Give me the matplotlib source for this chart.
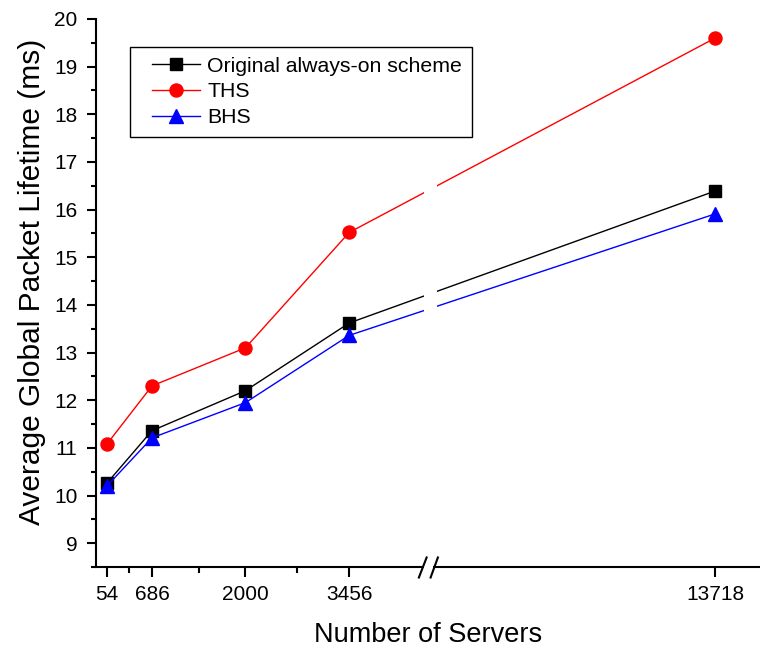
import numpy as np
import matplotlib
matplotlib.use("Agg")
import matplotlib.pyplot as plt
from matplotlib.path import Path
from matplotlib.lines import Line2D
from matplotlib.legend_handler import HandlerLine2D
from matplotlib.ticker import MultipleLocator, FixedLocator

plt.rcParams['font.family'] = ['Liberation Sans', 'DejaVu Sans']

# Data
servers = [54, 686, 2000, 3456, 13718]
original = [10.26, 11.36, 12.20, 13.62, 16.39]
ths = [11.08, 12.30, 13.10, 15.52, 19.60]
bhs = [10.20, 11.21, 11.95, 13.36, 15.91]

series_labels = ["Original always-on scheme", "THS", "BHS"]
x_major = [54, 686, 2000, 3456, 13718]
x_minor = [370, 1343, 2728]
x_label = "Number of Servers"
y_label = "Average Global Packet Lifetime (ms)"

# Broken x axis: linear up to the break, compressed beyond it
BREAK = 4570.0
K = 0.4402


def fwd(x):
    x = np.asarray(x, dtype=float)
    return np.where(x <= BREAK, x, BREAK + (x - BREAK) * K)


def inv(y):
    y = np.asarray(y, dtype=float)
    return np.where(y <= BREAK, y, BREAK + (y - BREAK) / K)


fig = plt.figure(figsize=(7.6, 6.47), dpi=100)
ax = fig.add_axes([96 / 760, 80 / 647, 664 / 760, 548 / 647])
ax.set_xscale('function', functions=(fwd, inv))
ax.set_xlim(-100, 15150)
ax.set_ylim(8.5, 20)

ax.plot(servers, original, color='black', lw=1.0, marker='s', ms=8,
        mec='black', mfc='black', label=series_labels[0], zorder=2)
ax.plot(servers, ths, color='#ff0000', lw=1.0, marker='o', ms=9.4,
        mec='#ff0000', mfc='#ff0000', label=series_labels[1], zorder=2)
ax.plot(servers, bhs, color='#0000ff', lw=1.0, marker='^', ms=10.5,
        mec='#0000ff', mfc='#0000ff', label=series_labels[2], zorder=2)

# gap in the lines where they cross the axis break
ax.axvspan(4510, 4850, ymin=0.05, ymax=0.95, color='white', lw=0, zorder=2.5)

# spines
for s in ('top', 'right'):
    ax.spines[s].set_visible(False)
for s in ('left', 'bottom'):
    ax.spines[s].set_linewidth(1.5)

# axis break mark: white gap in the spine and two slashes
gap_path = Path([(-4.5, 0), (4.5, 0)], [Path.MOVETO, Path.LINETO])
ax.plot([BREAK], [0], marker=gap_path, ms=9 * 0.72, mew=3, mec='white',
        mfc='none', transform=ax.get_xaxis_transform(), clip_on=False,
        zorder=3, ls='none')
slash_path = Path([(-10, -11), (-1.5, 11), (1.75, -11), (9.75, 11)],
                  [Path.MOVETO, Path.LINETO, Path.MOVETO, Path.LINETO])
ax.plot([BREAK], [0], marker=slash_path, ms=22 * 0.72, mew=1.5, mec='black',
        mfc='none', transform=ax.get_xaxis_transform(), clip_on=False,
        zorder=3.5, ls='none')

# ticks
ax.xaxis.set_major_locator(FixedLocator(x_major))
ax.xaxis.set_minor_locator(FixedLocator(x_minor))
ax.set_xticklabels([str(v) for v in x_major])
ax.yaxis.set_major_locator(MultipleLocator(1))
ax.yaxis.set_minor_locator(MultipleLocator(0.5))
ax.tick_params(axis='x', which='major', length=7.5, width=1.5, direction='out',
               labelsize=15, pad=5.5)
ax.tick_params(axis='x', which='minor', length=4, width=1.5, direction='out')
ax.tick_params(axis='y', which='major', length=6.5, width=1.5, direction='out',
               labelsize=15, pad=7)
ax.tick_params(axis='y', which='minor', length=3.5, width=1.5, direction='out')

ax.set_xlabel(x_label, fontsize=19.5, labelpad=13)
ax.set_ylabel(y_label, fontsize=21.5)
ax.yaxis.set_label_coords(-0.075, 0.52)

leg = ax.legend(loc='upper left',
                bbox_to_anchor=((130 - 96) / 664, (567 - 47) / 548),
                fontsize=15.3, frameon=True, fancybox=False, framealpha=1,
                edgecolor='black', handlelength=2.84, handletextpad=0.35,
                borderpad=0.45, labelspacing=0.32, borderaxespad=0,
                handler_map={Line2D: HandlerLine2D(xpad=0.58)})
leg.get_frame().set_linewidth(1.0)

fig.savefig("out.png", dpi=100)
